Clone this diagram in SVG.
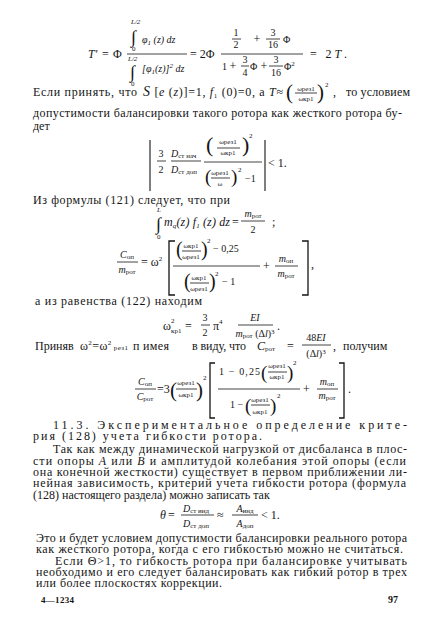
<svg xmlns="http://www.w3.org/2000/svg" width="448" height="642" viewBox="0 0 448 642">
<style>
text{font-family:"Liberation Serif","DejaVu Serif",serif;fill:#151515}
.b{font-size:12px}
.m{font-size:12px}
.i{font-style:italic}
.s{font-size:7px}
.f{font-size:10px}
.c{text-anchor:middle}
.int{font-size:18px}
line{stroke:#151515;stroke-width:0.8}
.br{stroke:#151515;stroke-width:1.3;fill:none}
</style>
<rect width="448" height="642" fill="#fff"/>

<g id="formula-1">
<text x="88" y="58" class="m i" font-size="13">T′</text>
<text x="102" y="58" class="m">=</text>
<text x="113" y="58" class="m">Φ</text>
<text x="131" y="24" class="s i">L/2</text>
<text x="131" y="43" class="int">∫</text>
<text x="132" y="51" class="s">0</text>
<text x="142" y="43" class="f i">φ<tspan class="s" dy="2">1</tspan><tspan dy="-2"> (z) dz</tspan></text>
<line x1="127" y1="54" x2="187" y2="54"/>
<text x="128" y="61" class="s i">L/2</text>
<text x="130" y="78" class="int">∫</text>
<text x="131" y="86" class="s">0</text>
<text x="142" y="72" class="f i">[φ<tspan class="s" dy="2">1</tspan><tspan dy="-2">(z)]</tspan><tspan class="s" dy="-4">2</tspan><tspan dy="4"> dz</tspan></text>
<text x="190" y="58" class="m">= 2Φ</text>
<text x="236" y="36" class="f c">1</text>
<line x1="232" y1="39" x2="241" y2="39"/>
<text x="236" y="48" class="f c">2</text>
<text x="257" y="43" class="m c">+</text>
<text x="273" y="36" class="f c">3</text>
<line x1="266" y1="39" x2="280" y2="39"/>
<text x="273" y="48" class="f c">16</text>
<text x="283" y="43" class="f">Φ</text>
<line x1="221" y1="54" x2="303" y2="54"/>
<text x="222" y="70" class="f">1</text>
<text x="233" y="70" class="m c">+</text>
<text x="245" y="63" class="f c">3</text>
<line x1="241" y1="66" x2="249" y2="66"/>
<text x="245" y="76" class="f c">4</text>
<text x="250" y="70" class="f">Φ</text>
<text x="264" y="70" class="m c">+</text>
<text x="276" y="63" class="f c">3</text>
<line x1="269" y1="66" x2="283" y2="66"/>
<text x="276" y="76" class="f c">16</text>
<text x="284" y="70" class="f">Φ<tspan class="s" dy="-4">2</tspan></text>
<text x="310" y="58" class="m" textLength="37" lengthAdjust="spacing">= 2<tspan class="i">T</tspan>.</text>
</g>

<g id="para-1">
<text x="33" y="96" class="b" textLength="104" lengthAdjust="spacing">Если принять, что</text>
<text x="143" y="96" class="b" textLength="140" lengthAdjust="spacing"><tspan class="i" font-size="14">S</tspan> [<tspan class="i">e</tspan> (<tspan class="i">z</tspan>)]=1, <tspan class="i">f</tspan><tspan font-size="7" dy="2">1</tspan><tspan dy="-2"> (0)=0, а </tspan><tspan class="i">T</tspan>≈</text>
<text x="286" y="99" font-size="21">(</text>
<text x="306" y="91" class="s c">ωрез1</text>
<line x1="295" y1="93" x2="317" y2="93"/>
<text x="306" y="101" class="s c">ωкр1</text>
<text x="317" y="99" font-size="21">)</text>
<text x="325" y="87" class="s">2</text>
<text x="333" y="96" class="b">,</text>
<text x="346" y="96" class="b" textLength="64" lengthAdjust="spacing">то условием</text>
<text x="33" y="117" class="b" textLength="369" lengthAdjust="spacing">допустимости балансировки   такого ротора как  жесткого  ротора бу-</text>
<text x="33" y="130" class="b">дет</text>
</g>

<g id="formula-2">
<line x1="150" y1="140" x2="150" y2="191" style="stroke-width:1.1"/>
<line x1="265" y1="140" x2="265" y2="191" style="stroke-width:1.1"/>
<text x="161" y="157" class="f c">3</text>
<line x1="157" y1="161" x2="166" y2="161"/>
<text x="161" y="173" class="f c">2</text>
<text x="171" y="157" class="f"><tspan class="i">D</tspan><tspan class="s" dy="1">ст нач</tspan></text>
<line x1="171" y1="161" x2="201" y2="161"/>
<text x="171" y="173" class="f"><tspan class="i">D</tspan><tspan class="s" dy="1">ст доп</tspan></text>
<text x="206" y="152" font-size="22">(</text>
<text x="228" y="144" class="s c">ωрез1</text>
<line x1="217" y1="148" x2="240" y2="148"/>
<text x="228" y="155" class="s c">ωкр1</text>
<text x="242" y="152" font-size="22">)</text>
<text x="249" y="138" class="s">2</text>
<line x1="204" y1="162" x2="262" y2="162"/>
<text x="205" y="183" font-size="19">(</text>
<text x="220" y="175" class="s c">ωрез1</text>
<line x1="211" y1="178" x2="230" y2="178"/>
<text x="220" y="186" class="s c">ω</text>
<text x="231" y="183" font-size="19">)</text>
<text x="238" y="172" class="s">2</text>
<text x="245" y="182" class="f">−1</text>
<text x="268" y="167" class="m" font-size="13">&lt; 1.</text>
</g>

<g id="para-2">
<text x="33" y="204" class="b" textLength="197" lengthAdjust="spacing">Из формулы (121) следует, что при</text>
</g>

<g id="formula-3">
<text x="157" y="212" class="s i">L</text>
<text x="156" y="230" class="int">∫</text>
<text x="157" y="239" class="s">0</text>
<text x="164" y="226" class="m i" textLength="66" lengthAdjust="spacing">m<tspan class="s" dy="2">q</tspan><tspan dy="-2">(z) f</tspan><tspan class="s" dy="2">1</tspan><tspan dy="-2"> (z) dz</tspan></text>
<text x="232" y="226" class="m">=</text>
<text x="253" y="217" class="f c"><tspan class="i">m</tspan><tspan class="s" dy="1">рот</tspan></text>
<line x1="241" y1="221" x2="265" y2="221"/>
<text x="253" y="233" class="f c">2</text>
<text x="272" y="226" class="m">;</text>

<text x="127" y="258" class="f c"><tspan class="i">C</tspan><tspan class="s" dy="1">оп</tspan></text>
<line x1="117" y1="262" x2="138" y2="262"/>
<text x="127" y="273" class="f c"><tspan class="i">m</tspan><tspan class="s" dy="1">рот</tspan></text>
<text x="141" y="266" class="m">= ω<tspan class="s" dy="-5">2</tspan></text>
<polyline class="br" points="175,241 169,241 169,295 175,295"/>
<text x="176" y="256" font-size="20">(</text>
<text x="191" y="248" class="s c">ωкр1</text>
<line x1="182" y1="251" x2="201" y2="251"/>
<text x="191" y="259" class="s c">ωрез1</text>
<text x="201" y="256" font-size="20">)</text>
<text x="207" y="243" class="s">2</text>
<text x="213" y="252" class="f">− 0,25</text>
<line x1="173" y1="266" x2="260" y2="266"/>
<text x="184" y="288" font-size="20">(</text>
<text x="199" y="280" class="s c">ωкр1</text>
<line x1="190" y1="283" x2="209" y2="283"/>
<text x="199" y="291" class="s c">ωрез1</text>
<text x="209" y="288" font-size="20">)</text>
<text x="215" y="276" class="s">2</text>
<text x="222" y="285" class="f">− 1</text>
<text x="263" y="270" class="m">+</text>
<text x="286" y="262" class="f c"><tspan class="i">m</tspan><tspan class="s" dy="1">оп</tspan></text>
<line x1="275" y1="266" x2="298" y2="266"/>
<text x="286" y="277" class="f c"><tspan class="i">m</tspan><tspan class="s" dy="1">рот</tspan></text>
<polyline class="br" points="302,241 308,241 308,295 302,295"/>
<text x="311" y="268" class="m">,</text>
</g>

<g id="para-3">
<text x="35" y="305" class="b" textLength="167" lengthAdjust="spacing">а из равенства (122) находим</text>
</g>

<g id="formula-4">
<text x="163" y="330" class="m">ω</text>
<text x="171" y="323" class="s">2</text>
<text x="171" y="333" class="s">кр1</text>
<text x="185" y="330" class="m">=</text>
<text x="205" y="321" class="f c">3</text>
<line x1="201" y1="325" x2="210" y2="325"/>
<text x="205" y="336" class="f c">2</text>
<text x="213" y="330" class="m">π<tspan class="s" dy="-6">4</tspan></text>
<text x="255" y="321" class="f c i">EI</text>
<line x1="238" y1="325" x2="273" y2="325"/>
<text x="255" y="337" class="f c"><tspan class="i">m</tspan><tspan class="s" dy="1">рот</tspan><tspan dy="-1"> (Δ</tspan><tspan class="i">l</tspan>)<tspan class="s" dy="-3">3</tspan></text>
<text x="277" y="330" class="m">.</text>
</g>

<g id="para-4">
<text x="35" y="350" class="b">Приняв</text>
<text x="80" y="350" class="b" textLength="48" lengthAdjust="spacing">ω<tspan class="s" dy="-5">2</tspan><tspan dy="5">=ω</tspan><tspan class="s" dy="-5">2</tspan><tspan class="s" dy="5"> рез1</tspan></text>
<text x="133" y="350" class="b" textLength="36" lengthAdjust="spacing">п имея</text>
<text x="192" y="350" class="b" textLength="54" lengthAdjust="spacing">в виду, что</text>
<text x="257" y="350" class="m"><tspan class="i">C</tspan><tspan class="s" dy="1">рот</tspan></text>
<text x="287" y="350" class="m">=</text>
<text x="316" y="341" class="f c">48<tspan class="i">EI</tspan></text>
<line x1="302" y1="345" x2="331" y2="345"/>
<text x="316" y="357" class="f c">(Δ<tspan class="i">l</tspan>)<tspan class="s" dy="-3">3</tspan></text>
<text x="333" y="350" class="b">,</text>
<text x="343" y="350" class="b">получим</text>
</g>

<g id="formula-5">
<text x="145" y="385" class="f c"><tspan class="i">C</tspan><tspan class="s" dy="1">оп</tspan></text>
<line x1="135" y1="389" x2="156" y2="389"/>
<text x="145" y="400" class="f c"><tspan class="i">C</tspan><tspan class="s" dy="1">рот</tspan></text>
<text x="157" y="393" class="m">=3</text>
<text x="170" y="397" font-size="21">(</text>
<text x="186" y="385" class="s c">ωрез1</text>
<line x1="176" y1="389" x2="197" y2="389"/>
<text x="186" y="397" class="s c">ωкр1</text>
<text x="196" y="397" font-size="21">)</text>
<text x="203" y="380" class="s">2</text>
<polyline class="br" points="215,363 210,363 210,418 215,418"/>
<text x="219" y="375" class="f" textLength="41" lengthAdjust="spacing">1 − 0,25</text>
<text x="261" y="379" font-size="19">(</text>
<text x="277" y="368" class="s c">ωрез1</text>
<line x1="268" y1="372" x2="287" y2="372"/>
<text x="277" y="379" class="s c">ωкр1</text>
<text x="287" y="379" font-size="19">)</text>
<text x="293" y="365" class="s">2</text>
<line x1="218" y1="389" x2="300" y2="389"/>
<text x="230" y="408" class="f">1 −</text>
<text x="245" y="412" font-size="19">(</text>
<text x="260" y="402" class="s c">ωрез1</text>
<line x1="251" y1="405" x2="270" y2="405"/>
<text x="260" y="414" class="s c">ωкр1</text>
<text x="270" y="412" font-size="19">)</text>
<text x="277" y="398" class="s">2</text>
<text x="303" y="393" class="m">+</text>
<text x="327" y="385" class="f c"><tspan class="i">m</tspan><tspan class="s" dy="1">оп</tspan></text>
<line x1="317" y1="389" x2="338" y2="389"/>
<text x="327" y="399" class="f c"><tspan class="i">m</tspan><tspan class="s" dy="1">рот</tspan></text>
<polyline class="br" points="339,363 344,363 344,418 339,418"/>
<text x="348" y="393" class="m">.</text>
</g>

<g id="section-11-3">
<text x="53" y="429" class="b" textLength="354" lengthAdjust="spacing">11.3. Экспериментальное   определение   крите-</text>
<text x="33" y="440" class="b" textLength="229" lengthAdjust="spacing">рия (128) учета гибкости ротора.</text>
<text x="53" y="453" class="b" textLength="354" lengthAdjust="spacing">Так как между динамической нагрузкой от дисбаланса в плос-</text>
<text x="33" y="465" class="b" textLength="373" lengthAdjust="spacing">сти опоры <tspan class="i">A</tspan> или <tspan class="i">B</tspan> и амплитудой колебания этой опоры (если</text>
<text x="33" y="476" class="b" textLength="374" lengthAdjust="spacing">она конечной жесткости) существует в первом приближении ли-</text>
<text x="33" y="487" class="b" textLength="373" lengthAdjust="spacing">нейная зависимость, критерий учета гибкости ротора (формула</text>
<text x="33" y="499" class="b">(128) настоящего раздела) можно записать так</text>
</g>

<g id="formula-6">
<text x="160" y="519" class="m i">θ</text>
<text x="168" y="519" class="m">=</text>
<text x="196" y="512" class="f c"><tspan class="i">D</tspan><tspan class="s" dy="1">ст инд</tspan></text>
<line x1="181" y1="515" x2="214" y2="515"/>
<text x="196" y="527" class="f c"><tspan class="i">D</tspan><tspan class="s" dy="1">ст доп</tspan></text>
<text x="217" y="519" class="m">≈</text>
<text x="245" y="512" class="f c"><tspan class="i">A</tspan><tspan class="s" dy="1">инд</tspan></text>
<line x1="232" y1="515" x2="258" y2="515"/>
<text x="245" y="527" class="f c"><tspan class="i">A</tspan><tspan class="s" dy="1">доп</tspan></text>
<text x="261" y="519" class="m" font-size="13">&lt; 1.</text>
</g>

<g id="para-6">
<text x="36" y="542" class="b" textLength="371" lengthAdjust="spacing">Это и будет условием допустимости балансировки реального ротора</text>
<text x="36" y="553" class="b" textLength="367" lengthAdjust="spacing">как жесткого ротора, когда с его гибкостью можно не считаться.</text>
<text x="55" y="565" class="b" textLength="352" lengthAdjust="spacing">Если Θ&gt;1, то гибкость ротора при балансировке учитывать</text>
<text x="36" y="576" class="b" textLength="371" lengthAdjust="spacing">необходимо и его следует балансировать как гибкий ротор в трех</text>
<text x="36" y="587" class="b" textLength="186" lengthAdjust="spacing">или более плоскостях коррекции.</text>
</g>

<g id="footer">
<text x="41" y="603" font-size="9" font-weight="bold" textLength="33" lengthAdjust="spacing">4—1234</text>
<text x="388" y="603" font-size="10" font-weight="bold">97</text>
</g>
</svg>
